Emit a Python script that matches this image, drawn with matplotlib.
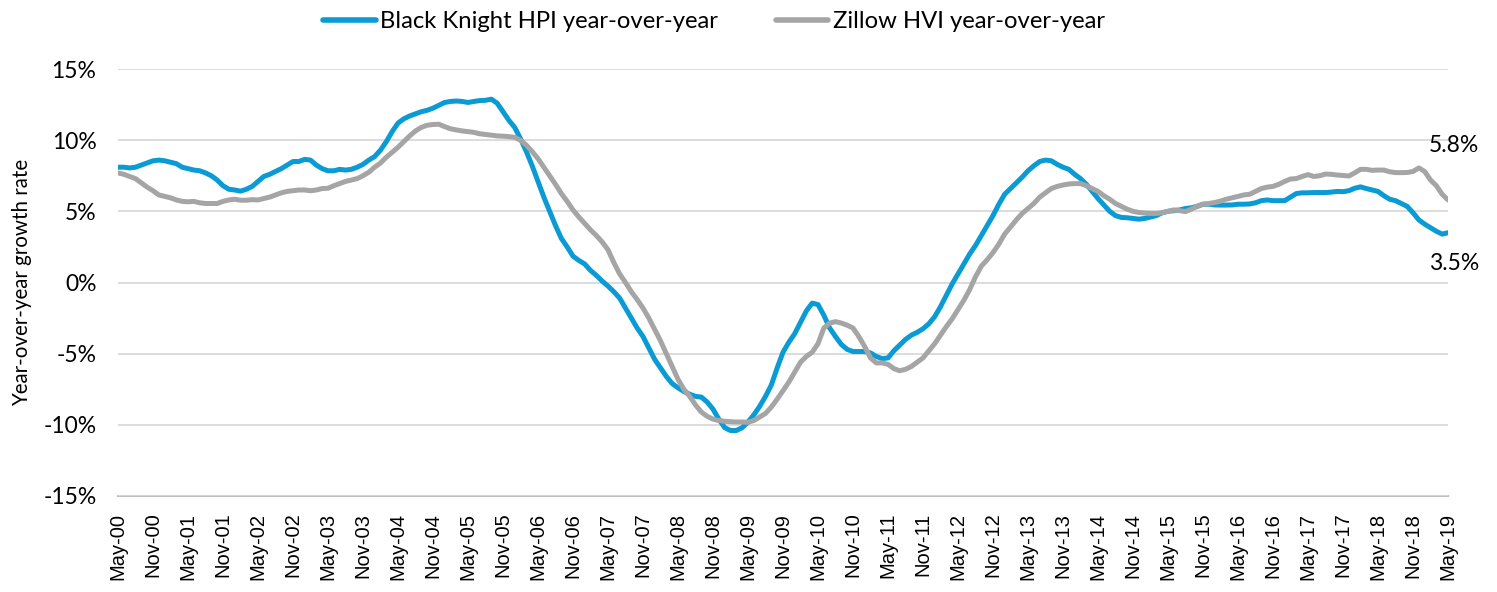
import matplotlib
matplotlib.use("Agg")
import matplotlib.pyplot as plt
import pandas as pd
import numpy as np

# Monthly dates May-2000 .. May-2019
months = pd.date_range("2000-05-01", "2019-05-01", freq="MS")

black_knight = [
    8.1, 8.1, 8.05, 8.1, 8.25, 8.4, 8.55, 8.6, 8.55, 8.45,
    8.35, 8.1, 8.0, 7.9, 7.85, 7.7, 7.5, 7.2, 6.8, 6.55,
    6.5, 6.42, 6.55, 6.75, 7.1, 7.45, 7.6, 7.8, 8.0, 8.25,
    8.5, 8.5, 8.65, 8.6, 8.25, 8.0, 7.85, 7.85, 7.95, 7.9,
    7.95, 8.1, 8.3, 8.6, 8.85, 9.3, 9.9, 10.6, 11.2, 11.5,
    11.7, 11.85, 12.0, 12.1, 12.25, 12.45, 12.65, 12.72, 12.75, 12.72,
    12.65, 12.72, 12.78, 12.8, 12.88, 12.6, 12.0, 11.4, 10.9, 10.1,
    9.2, 8.2, 7.1, 6.0, 5.0, 4.0, 3.1, 2.5, 1.85, 1.55,
    1.3, 0.85, 0.5, 0.1, -0.25, -0.65, -1.1, -1.8, -2.5, -3.2,
    -3.8, -4.6, -5.4, -6.0, -6.6, -7.1, -7.4, -7.65, -7.85, -8.0,
    -8.05, -8.4, -8.9, -9.6, -10.2, -10.4, -10.4, -10.2, -9.8, -9.3,
    -8.7, -8.0, -7.2, -6.0, -4.9, -4.2, -3.6, -2.8, -2.0, -1.45,
    -1.55, -2.3, -3.2, -3.8, -4.35, -4.7, -4.85, -4.85, -4.85, -4.95,
    -5.2, -5.35, -5.3, -4.8, -4.4, -4.0, -3.7, -3.5, -3.25, -2.9,
    -2.4, -1.7, -0.9, -0.1, 0.6, 1.3, 2.0, 2.6, 3.3, 4.0,
    4.7, 5.5, 6.2, 6.6, 7.0, 7.4, 7.85, 8.2, 8.5, 8.6,
    8.55, 8.3, 8.1, 7.95, 7.6, 7.3, 6.9, 6.4, 5.9, 5.45,
    5.0, 4.7, 4.57, 4.55, 4.5, 4.45, 4.5, 4.6, 4.7, 4.9,
    5.0, 5.05, 5.1, 5.2, 5.25, 5.35, 5.5, 5.5, 5.45, 5.44,
    5.44, 5.45, 5.5, 5.5, 5.52, 5.6, 5.75, 5.8, 5.75, 5.75,
    5.75, 6.0, 6.25, 6.3, 6.3, 6.32, 6.32, 6.32, 6.35, 6.4,
    6.38, 6.45, 6.62, 6.72, 6.6, 6.5, 6.4, 6.1, 5.85, 5.75,
    5.55, 5.35, 4.9, 4.4, 4.1, 3.85, 3.6, 3.4, 3.5,
]

zillow = [
    7.7, 7.6, 7.45, 7.3, 7.0, 6.7, 6.45, 6.15, 6.05, 5.95,
    5.8, 5.7, 5.67, 5.7, 5.6, 5.55, 5.55, 5.55, 5.7, 5.8,
    5.85, 5.78, 5.78, 5.82, 5.8, 5.9, 6.0, 6.15, 6.3, 6.4,
    6.45, 6.5, 6.5, 6.45, 6.5, 6.6, 6.62, 6.8, 6.95, 7.1,
    7.2, 7.3, 7.5, 7.75, 8.1, 8.4, 8.8, 9.15, 9.5, 9.9,
    10.3, 10.65, 10.9, 11.05, 11.1, 11.12, 10.95, 10.8, 10.72, 10.65,
    10.6, 10.55, 10.45, 10.4, 10.35, 10.3, 10.28, 10.25, 10.2, 10.0,
    9.65, 9.2, 8.7, 8.1, 7.5, 6.9, 6.25, 5.7, 5.1, 4.6,
    4.15, 3.7, 3.3, 2.85, 2.3, 1.4, 0.6, 0.0, -0.65, -1.2,
    -1.8, -2.5, -3.3, -4.1, -5.0, -5.9, -6.8, -7.5, -8.0, -8.6,
    -9.1, -9.4, -9.6, -9.7, -9.75, -9.78, -9.8, -9.8, -9.82, -9.7,
    -9.45, -9.2, -8.75, -8.2, -7.6, -7.0, -6.3, -5.6, -5.2, -4.9,
    -4.3, -3.2, -2.85, -2.75, -2.85, -3.0, -3.2, -3.8, -4.5, -5.3,
    -5.65, -5.65, -5.75, -6.05, -6.2, -6.1, -5.9, -5.6, -5.3, -4.8,
    -4.3, -3.7, -3.1, -2.55, -1.9, -1.25, -0.5, 0.4, 1.15, 1.6,
    2.1, 2.7, 3.4, 3.9, 4.4, 4.85, 5.2, 5.55, 6.0, 6.3,
    6.6, 6.75, 6.85, 6.92, 6.95, 6.95, 6.8, 6.6, 6.4, 6.1,
    5.85, 5.55, 5.35, 5.15, 5.0, 4.92, 4.88, 4.85, 4.85, 4.9,
    5.0, 5.1, 5.05, 4.98, 5.15, 5.35, 5.5, 5.55, 5.62, 5.72,
    5.85, 5.95, 6.05, 6.15, 6.2, 6.4, 6.6, 6.7, 6.75, 6.9,
    7.1, 7.27, 7.3, 7.45, 7.58, 7.45, 7.5, 7.62, 7.6, 7.55,
    7.52, 7.48, 7.7, 7.95, 7.95, 7.88, 7.9, 7.9, 7.78, 7.72,
    7.72, 7.73, 7.8, 8.05, 7.8, 7.2, 6.8, 6.2, 5.8,
]

series_names = ["Black Knight HPI year-over-year", "Zillow HVI year-over-year"]
end_labels = ["3.5%", "5.8%"]
y_ticks = [-15, -10, -5, 0, 5, 10, 15]

assert len(black_knight) == len(months) == len(zillow)

BLUE = "#0A9BD5"
GRAY = "#A5A5A5"

x = np.arange(len(months))
tick_idx = x[::6]
tick_labels = [months[i].strftime("%b-%y") for i in tick_idx]

fig = plt.figure(figsize=(14.97, 5.92), dpi=100)
ax = fig.add_axes([118 / 1497, (592 - 496) / 592, (1448 - 118) / 1497, (496 - 69) / 592])

ax.plot(x, black_knight, color=BLUE, lw=3.6, label=series_names[0], solid_capstyle="round", zorder=3)
ax.plot(x, zillow, color=GRAY, lw=3.6, label=series_names[1], solid_capstyle="round", zorder=3)

ax.set_xlim(0, len(months) - 1)
ax.set_ylim(-15, 15)
ax.set_yticks(y_ticks)
ax.set_yticklabels([f"{v}%" for v in y_ticks], fontfamily="Lato", fontsize=16.5)
ax.set_xticks(tick_idx)
ax.set_xticklabels(tick_labels, rotation=90, fontfamily="Liberation Sans", fontsize=14.5)
ax.tick_params(axis="x", length=0, pad=12, colors="#000000")
ax.tick_params(axis="y", length=0, pad=15.5, colors="#000000")

ax.grid(axis="y", color="#D9D9D9", lw=1.3, zorder=0)
for s in ["top", "right", "left"]:
    ax.spines[s].set_visible(False)
ax.spines["bottom"].set_color("#BFBFBF")
ax.spines["bottom"].set_linewidth(1.5)
ax.spines["bottom"].set_zorder(1)

ax.set_ylabel("Year-over-year growth rate", fontfamily="Lato", fontsize=14.8, labelpad=8)

# end-of-series labels
ax.annotate(end_labels[1], xy=(x[-1], zillow[-1]), xytext=(-19, 54), textcoords="offset pixels",
            fontfamily="Lato", fontsize=16.5, va="center", ha="left")
ax.annotate(end_labels[0], xy=(x[-1], black_knight[-1]), xytext=(-19, -31), textcoords="offset pixels",
            fontfamily="Lato", fontsize=16.5, va="center", ha="left")

leg = fig.legend(loc="center", bbox_to_anchor=(714 / 1497, 1 - 22 / 592), ncol=2, frameon=False,
                 prop={"family": "Lato", "size": 17.2}, handlelength=2.2, handletextpad=0.2,
                 columnspacing=2.4)
for h in leg.get_lines():
    h.set_linewidth(4)
    h.set_solid_capstyle("round")

fig.savefig("out.png", dpi=100)
